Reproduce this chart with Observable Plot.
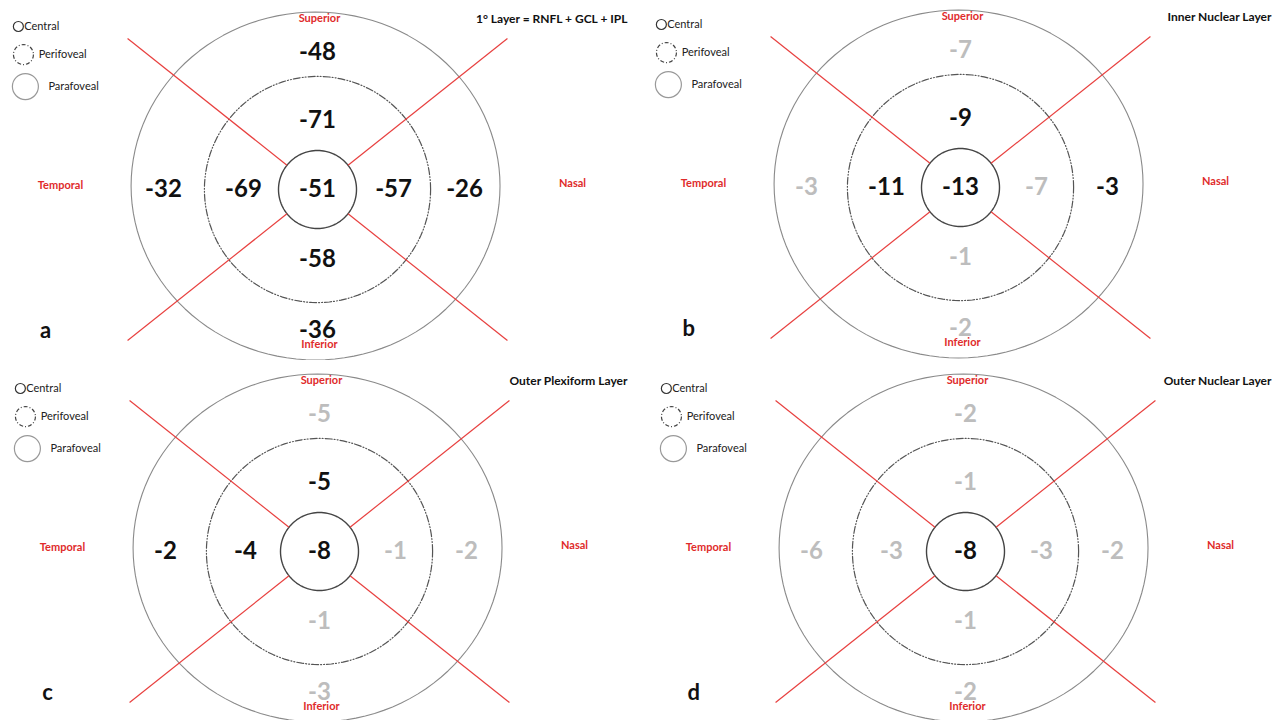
<!DOCTYPE html>
<html>
<head>
<meta charset="utf-8">
<script src="https://cdn.jsdelivr.net/npm/d3@7"></script>
<script src="https://cdn.jsdelivr.net/npm/@observablehq/plot@0.6"></script>
<style>
  html, body { margin: 0; padding: 0; background: #fff; }
  #grid { display: grid; grid-template-columns: 644px 644px; grid-template-rows: 360px 360px; width: 1288px; height: 720px; }
  #grid svg { display: block; }
</style>
</head>
<body>
<div id="grid"></div>
<script>
// ---------- data ----------
const panelLetters = ["a", "b", "c", "d"];
const layerTitles = ["1° Layer = RNFL + GCL + IPL", "Inner Nuclear Layer", "Outer Plexiform Layer", "Outer Nuclear Layer"];
const sectors = ["C", "SI", "NI", "II", "TI", "SO", "NO", "IO", "TO"];
// values per sector (order of `sectors`)
const valuesA = [-51, -71, -57, -58, -69, -48, -26, -36, -32];
const valuesB = [-13, -9, -7, -1, -11, -7, -3, -2, -3];
const valuesC = [-8, -5, -1, -1, -4, -5, -2, -3, -2];
const valuesD = [-8, -1, -3, -1, -3, -2, -2, -2, -6];
// significant (black) vs non-significant (grey)
const signifA = [1, 1, 1, 1, 1, 1, 1, 1, 1];
const signifB = [1, 1, 0, 0, 1, 0, 1, 0, 0];
const signifC = [1, 1, 0, 0, 1, 0, 0, 0, 1];
const signifD = [1, 0, 0, 0, 0, 0, 0, 0, 0];
const legendLabels = ["Central", "Perifoveal", "Parafoveal"];
const directionLabels = ["Superior", "Inferior", "Temporal", "Nasal"];

const allValues = [valuesA, valuesB, valuesC, valuesD];
const allSignif = [signifA, signifB, signifC, signifD];

// ---------- layout ----------
const W = 644, H = 360, U = 39; // px per unit (central radius = 1)
const centers = [[317, 189], [316, 187], [319, 191], [321, 191]];
const sectorPos = {
  C: [0, 0], SI: [0, 1.77], NI: [1.95, 0], II: [0, -1.79], TI: [-1.9, 0],
  SO: [0, 3.51], NO: [3.77, 0], IO: [0, -3.62], TO: [-3.95, 0]
};
const dirPos = { Superior: [0.05, 4.38], Inferior: [0.05, -3.97], Temporal: [-6.59, 0.1], Nasal: [6.54, 0.15] };
const legendPos = [
  { cx: -7.67, cy: 4.18, r: 5, tx: -7.52, dash: null, stroke: "#333" },
  { cx: -7.54, cy: 3.46, r: 10, tx: -7.15, dash: "4,2,1,2", stroke: "#444" },
  { cx: -7.49, cy: 2.64, r: 13, tx: -6.9, dash: null, stroke: "#999" }
];

function ring(rx, ry, ox, oy) {
  return d3.range(0, 361, 3).map(a => ({
    x: ox + rx * Math.cos(a * Math.PI / 180),
    y: oy + ry * Math.sin(a * Math.PI / 180)
  }));
}

const red = "#e8403f";
const ex = 4.87, ey = 3.87;
const th = Math.atan2(ey, ex);
const sx = Math.cos(th), sy = Math.sin(th);
const spokes = [
  { x1: -sx, y1: sy, x2: -ex, y2: ey },
  { x1: sx, y1: sy, x2: ex, y2: ey },
  { x1: sx, y1: -sy, x2: ex, y2: -ey },
  { x1: -sx, y1: -sy, x2: -ex, y2: -ey }
];

const grid = document.getElementById("grid");

panelLetters.forEach((letter, i) => {
  const [cx, cy] = centers[i];
  const vals = allValues[i];
  const sig = allSignif[i];
  const numbers = sectors.map((s, k) => ({
    x: sectorPos[s][0], y: sectorPos[s][1],
    text: String(vals[k]),
    fill: sig[k] ? "#111" : "#bdbdbd"
  }));
  const dirs = directionLabels.map(d => ({ x: dirPos[d][0], y: dirPos[d][1], text: d }));
  const legend = legendLabels.map((l, k) => ({ ...legendPos[k], text: l }));

  const legendDots = legend.map(d => Plot.dot([d], {
    x: "cx", y: "cy", r: d.r, stroke: d.stroke, strokeWidth: 1.2, fill: "none",
    strokeDasharray: d.dash || undefined
  }));

  const chart = Plot.plot({
    width: W, height: H, margin: 0,
    style: { fontFamily: "Lato, 'Open Sans', sans-serif", background: "white" },
    x: { domain: [-cx / U, (W - cx) / U], axis: null },
    y: { domain: [-(H - cy) / U, cy / U], axis: null },
    marks: [
      // rings
      Plot.line(ring(4.73, 4.46, -0.05, 0.09), { x: "x", y: "y", stroke: "#8a8a8a", strokeWidth: 1.1 }),
      Plot.line(ring(2.9, 2.9, 0, 0), { x: "x", y: "y", stroke: "#555", strokeWidth: 1.2, strokeDasharray: "7,2,1,2,1,2" }),
      Plot.line(ring(1, 1, 0, 0), { x: "x", y: "y", stroke: "#444", strokeWidth: 1.4 }),
      // red sector dividers
      Plot.link(spokes, { x1: "x1", y1: "y1", x2: "x2", y2: "y2", stroke: red, strokeWidth: 1.2 }),
      // values
      Plot.text(numbers, { x: "x", y: "y", text: "text", fill: "fill", fontSize: 24, fontWeight: "bold" }),
      // direction labels
      Plot.text(dirs, { x: "x", y: "y", text: "text", fill: "#e02b2b", fontSize: 11, fontWeight: "bold" }),
      // title
      Plot.text([layerTitles[i]], { x: (W - cx - 17) / U, y: 4.38, text: d => d, textAnchor: "end", fontSize: 12, fontWeight: "bold", fill: "#111" }),
      // panel letter
      Plot.text([letter], { x: -6.97, y: -3.62, text: d => d, fontSize: 22, fontWeight: "bold", fill: "#111" }),
      // legend
      ...legendDots,
      Plot.text(legend, { x: "tx", y: "cy", text: "text", textAnchor: "start", fontSize: 11, fill: "#222" })
    ]
  });
  grid.appendChild(chart);
});
</script>
</body>
</html>
